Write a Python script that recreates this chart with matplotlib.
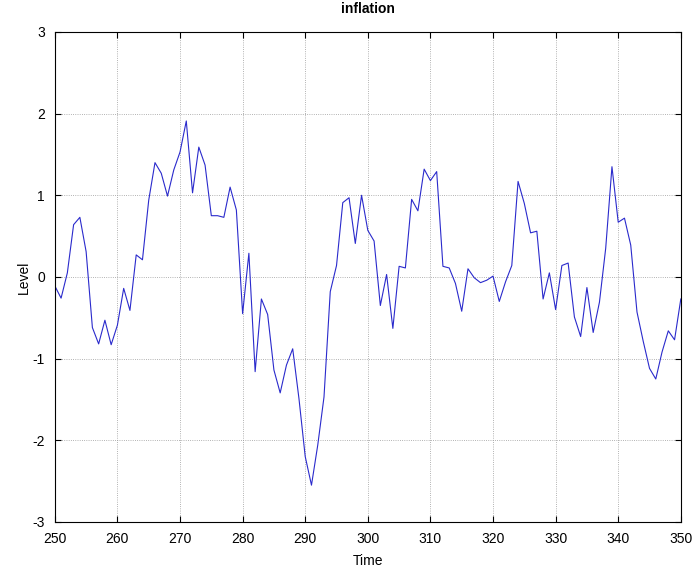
import numpy as np
import matplotlib
matplotlib.use("Agg")
import matplotlib.pyplot as plt

plt.rcParams['font.family'] = ['Liberation Sans', 'DejaVu Sans']
plt.rcParams['axes.unicode_minus'] = False

time = np.arange(250, 351)
level = [-0.11, -0.26, 0.05, 0.64, 0.73, 0.31, -0.62, -0.82, -0.53, -0.83,
         -0.59, -0.14, -0.41, 0.27, 0.21, 0.94, 1.40, 1.27, 0.99, 1.31,
         1.53, 1.91, 1.03, 1.59, 1.37, 0.75, 0.75, 0.73, 1.10, 0.82,
         -0.45, 0.29, -1.16, -0.27, -0.46, -1.14, -1.42, -1.08, -0.88, -1.49,
         -2.20, -2.55, -2.06, -1.47, -0.18, 0.14, 0.91, 0.97, 0.41, 1.00,
         0.57, 0.44, -0.35, 0.03, -0.63, 0.13, 0.11, 0.95, 0.81, 1.32,
         1.18, 1.29, 0.13, 0.11, -0.08, -0.42, 0.10, -0.01, -0.07, -0.04,
         0.01, -0.30, -0.06, 0.14, 1.17, 0.90, 0.54, 0.56, -0.27, 0.05,
         -0.40, 0.14, 0.17, -0.49, -0.73, -0.13, -0.68, -0.31, 0.35, 1.35,
         0.67, 0.72, 0.39, -0.43, -0.79, -1.12, -1.25, -0.92, -0.66, -0.77,
         -0.27]

fig = plt.figure(figsize=(6.94, 5.71), dpi=100)
ax = fig.add_axes([0.079, 0.086, 0.902, 0.858])
ax.plot(time, level, color='#2a2acc', linewidth=0.8)

ax.set_xlim(250, 350)
ax.set_ylim(-3, 3)
ax.set_xticks(np.arange(250, 351, 10))
ax.set_yticks(np.arange(-3, 4, 1))
ax.grid(True, linestyle=':', color='#999999', linewidth=0.6)
ax.tick_params(direction='in', top=True, right=True, labelsize=10, length=4)
ax.tick_params(axis='x', pad=7)
ax.tick_params(axis='y', pad=7)
for s in ax.spines.values():
    s.set_linewidth(0.8)

ax.set_title('inflation', fontsize=10, fontweight='bold', pad=14)
ax.set_xlabel('Time', fontsize=10, labelpad=6)
ax.set_ylabel('Level', fontsize=10, labelpad=1)

fig.savefig('out.png', dpi=100)
